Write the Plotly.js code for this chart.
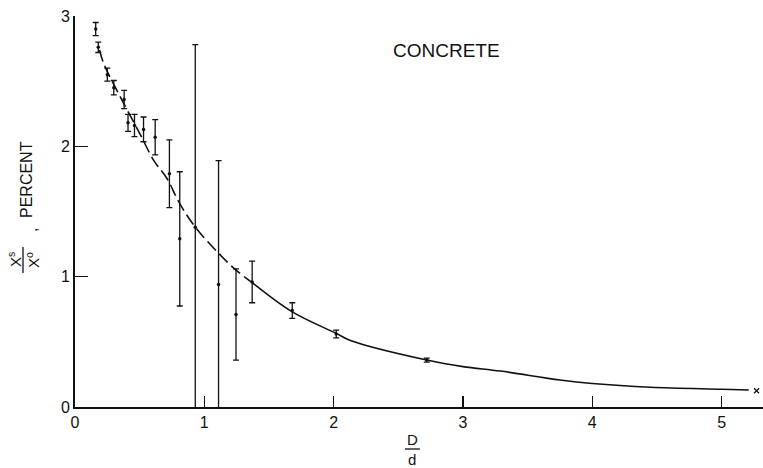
<!DOCTYPE html>
<html>
<head>
<meta charset="utf-8">
<script src="https://cdn.plot.ly/plotly-3.0.1.min.js"></script>
<style>html,body{margin:0;padding:0;background:#fff;}#chart{width:763px;height:468px;}</style>
</head>
<body>
<div id="chart"></div>
<script>
// Measured points with error bars
const pointX = [0.16, 0.18, 0.25, 0.30, 0.38, 0.41, 0.46, 0.53, 0.62, 0.73, 0.81, 0.93, 1.11, 1.245, 1.37, 1.68, 2.02, 2.72];
const pointY = [2.90, 2.76, 2.55, 2.45, 2.36, 2.18, 2.16, 2.13, 2.07, 1.79, 1.29, 1.38, 0.94, 0.71, 0.96, 0.74, 0.56, 0.36];
const pointErr = [0.05, 0.04, 0.05, 0.055, 0.07, 0.065, 0.085, 0.095, 0.135, 0.26, 0.515, 1.40, 0.95, 0.35, 0.16, 0.06, 0.03, 0.015];

// Fitted curve (dashed part, then solid part)
const curveDashX = [0.19, 0.22, 0.35, 0.50, 0.61, 0.71, 0.81, 0.93, 1.11, 1.245, 1.37];
const curveDashY = [2.74, 2.64, 2.38, 2.10, 1.89, 1.755, 1.56, 1.38, 1.18, 1.05, 0.955];
const curveSolidX = [1.37, 1.68, 2.02, 2.13, 2.72, 3.0, 3.29, 3.75, 4.0, 4.45, 5.0, 5.21];
const curveSolidY = [0.955, 0.73, 0.565, 0.51, 0.36, 0.31, 0.276, 0.207, 0.18, 0.151, 0.136, 0.13];

// End point marker
const endX = [5.27];
const endY = [0.125];

const xTicks = [0, 1, 2, 3, 4, 5];
const yTicks = [0, 1, 2, 3];

const ink = '#111';
const font = 'Liberation Sans, Arial, sans-serif';

const traces = [
  {x: curveDashX, y: curveDashY, mode: 'lines', line: {color: ink, width: 1.6, dash: '12px,5px', shape: 'spline'}, hoverinfo: 'skip'},
  {x: curveSolidX, y: curveSolidY, mode: 'lines', line: {color: ink, width: 1.6, shape: 'spline'}, hoverinfo: 'skip'},
  {x: pointX, y: pointY, mode: 'markers', marker: {color: ink, size: 3.5},
   error_y: {type: 'data', array: pointErr, visible: true, color: ink, thickness: 1.3, width: 3}},
  {x: endX, y: endY, mode: 'markers', marker: {color: ink, size: 5, symbol: 'x-thin', line: {color: ink, width: 1.3}}}
];

const W = 688, H = 391; // plot area pixels
function px(p) { return (p - 75) / W; }
function py(p) { return (407 - p) / H; }

function ann(text, x, y, size, angle) {
  return {text: text, xref: 'paper', yref: 'paper', x: px(x), y: py(y),
          xanchor: 'center', yanchor: 'middle', showarrow: false, textangle: angle || 0,
          font: {size: size, family: font, color: ink}};
}

const layout = {
  width: 763, height: 468,
  margin: {l: 75, r: 0, t: 16, b: 61, pad: 0},
  paper_bgcolor: '#fff', plot_bgcolor: '#fff',
  showlegend: false,
  font: {family: font, color: ink, size: 16},
  xaxis: {range: [0, 5.32], tickvals: xTicks, ticktext: xTicks.map(String),
          ticks: 'inside', ticklen: 11, tickwidth: 1.2, tickcolor: ink,
          showline: true, linecolor: ink, linewidth: 2, showgrid: false, zeroline: false,
          tickfont: {size: 16, family: font, color: ink}},
  yaxis: {range: [0, 3], tickvals: yTicks, ticktext: yTicks.map(String),
          ticks: 'inside', ticklen: 13, tickwidth: 1.2, tickcolor: ink,
          showline: true, linecolor: ink, linewidth: 2, showgrid: false, zeroline: false,
          tickfont: {size: 16, family: font, color: ink}},
  annotations: [
    ann('CONCRETE', 446, 50, 19),
    ann('PERCENT', 26, 180, 16, -90),
    ann(',', 31, 230, 16, -90),
    ann('X<sup>s</sup>', 14, 260, 15, -90),
    ann('X<sup>o</sup>', 32, 260, 15, -90),
    ann('D', 412, 439, 15),
    ann('d', 412, 459, 15)
  ],
  shapes: [
    {type: 'line', xref: 'paper', yref: 'paper', x0: px(23), x1: px(23), y0: py(247), y1: py(273), line: {color: ink, width: 1.3}},
    {type: 'line', xref: 'paper', yref: 'paper', x0: px(405), x1: px(420), y0: py(449), y1: py(449), line: {color: ink, width: 1.3}}
  ]
};

Plotly.newPlot('chart', traces, layout, {displayModeBar: false, staticPlot: true});
</script>
</body>
</html>
